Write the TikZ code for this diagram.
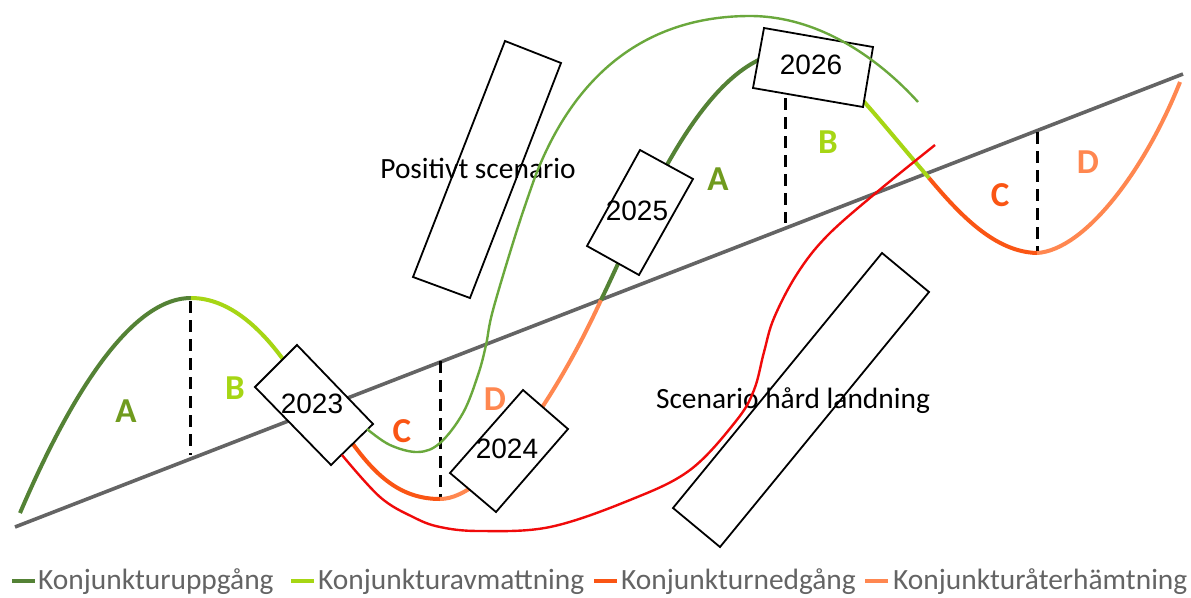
\documentclass[tikz,border=0pt]{standalone}
\usepackage{fontspec}
\setmainfont{Carlito}
\newfontfamily\yearfont{Liberation Sans}
\definecolor{trendgray}{RGB}{100,100,100}
\definecolor{upgreen}{RGB}{84,130,53}
\definecolor{labgreen}{RGB}{112,155,30}
\definecolor{slowgreen}{RGB}{166,214,20}
\definecolor{downorange}{RGB}{250,85,20}
\definecolor{recorange}{RGB}{255,135,80}
\definecolor{posgreen}{RGB}{106,168,60}
\definecolor{hardred}{RGB}{240,10,10}
\definecolor{legendgray}{RGB}{100,100,100}
\begin{document}
\begin{tikzpicture}[x=1pt,y=-1pt,
  trend/.style={draw=trendgray,line width=3.6pt},
  divider/.style={draw=black,line width=3pt,dash pattern=on 12pt off 7pt},
  phaseA/.style={draw=upgreen,line width=4pt},
  phaseB/.style={draw=slowgreen,line width=4pt},
  phaseC/.style={draw=downorange,line width=4pt},
  phaseD/.style={draw=recorange,line width=4pt},
  yearbox/.style={draw=black,line width=1.8pt,fill=white,line join=miter},
  scenbox/.style={draw=black,line width=1.8pt},
  yeartext/.style={font=\yearfont\fontsize{28}{30}\selectfont,anchor=base,inner sep=0pt},
  scentext/.style={font=\fontsize{29.4}{32}\selectfont,anchor=base,inner sep=0pt},
  phaselabel/.style={font=\bfseries\fontsize{35}{40}\selectfont,anchor=base,inner sep=0pt},
  legtext/.style={font=\fontsize{29.4}{32}\selectfont,text=legendgray,anchor=base west,inner sep=0pt},
  posline/.style={draw=posgreen,line width=2.4pt},
  hardline/.style={draw=hardred,line width=2.4pt}
]
\fill[white] (0,0) rectangle (1191,597);
\useasboundingbox (0,0) rectangle (1191,597);

% trend line
\coordinate (t0) at (15,527);
\coordinate (t1) at (1183,74);
\draw[trend] (t0) -- (t1);

% key points of the cycle
\coordinate (s0) at (20,513);
\coordinate (p1) at (191,298);
\coordinate (b1) at (285,362);
\coordinate (c1) at (350,440);
\coordinate (q1) at (440,499);
\coordinate (x1) at (601,300);
\coordinate (p2) at (785,52);
\coordinate (x2) at (929,178);
\coordinate (q2) at (1037,253);
\coordinate (e2) at (1180,82);

% dashed dividers
\draw[divider] (190,301) -- (190,455);
\draw[divider] (440,361) -- (440,497);
\draw[divider] (785,98) -- (785,223);
\draw[divider] (1037,132) -- (1037,252);

% main cycle
\draw[phaseA] (s0) .. controls (62,415) and (125,298) .. (p1);
\draw[phaseB] (p1) .. controls (230,298) and (262,330) .. (b1);
\draw[phaseC] (c1) .. controls (375,475) and (400,499) .. (q1);
\draw[phaseD] (q1) .. controls (490,499) and (560,390) .. (x1);
\draw[phaseA] (x1) .. controls (640,220) and (700,62) .. (p2);
\draw[phaseB] (p2) .. controls (830,52) and (855,92) .. (x2);
\draw[phaseC] (x2) .. controls (960,215) and (995,252) .. (q2);
\draw[phaseD] (q2) .. controls (1085,250) and (1145,170) .. (e2);

% phase labels
\node[phaselabel,text=labgreen] (la1) at (126,422) {A};
\node[phaselabel,text=slowgreen] (lb1) at (235,399) {B};
\node[phaselabel,text=downorange] (lc1) at (402,442) {C};
\node[phaselabel,text=recorange] (ld1) at (495,410) {D};
\node[phaselabel,text=labgreen] (la2) at (718,190) {A};
\node[phaselabel,text=slowgreen] (lb2) at (828,153) {B};
\node[phaselabel,text=downorange] (lc2) at (1000,206) {C};
\node[phaselabel,text=recorange] (ld2) at (1088,173) {D};

% year boxes
\draw[yearbox] (255,387) -- (297,345) -- (373,424) -- (331,465) -- cycle;
\node[yeartext] (y2023) at (312,413) {2023};
\draw[yearbox] (450,473) -- (523,390) -- (568,429) -- (496,512) -- cycle;
\node[yeartext] (y2024) at (507,458) {2024};
\draw[yearbox] (640,150) -- (693,179) -- (639,275) -- (587,246) -- cycle;
\node[yeartext] (y2025) at (637,220) {2025};
\draw[yearbox] (764,28) -- (873,47) -- (863,107) -- (753,88) -- cycle;
\node[yeartext] (y2026) at (811,74) {2026};

% scenario boxes and texts
\draw[scenbox] (505,41) -- (561,63) -- (470,298) -- (413,277) -- cycle;
\node[scentext] (pos) at (478,178) {Positivt scenario};
\draw[scenbox] (882,253) -- (929,292) -- (720,547) -- (673,508) -- cycle;
\node[scentext] (hard) at (793,408) {Scenario hård landning};

% positive scenario curve
\coordinate (ptop) at (750,16);
\coordinate (pend) at (918,102);
\draw[posline] plot[smooth,tension=0.6] coordinates {
 (367,429) (390,445) (418,452) (440,443) (463,413) (478,375) (486,345)
 (493,310) (517,230) (535,177)}
 .. controls (580,60) and (660,16) .. (ptop)
 .. controls (820,16) and (880,60) .. (pend);

% hard landing curve
\draw[hardline] plot[smooth,tension=0.6] coordinates {
 (342,455) (380,497) (413,517) (440,527) (480,531) (550,527) (630,500)
 (690,470) (736,421) (754,390) (764,352) (774,318) (797,274) (827,236)
 (877,192) (935,145)};

% legend
\draw[phaseA] (12,581) -- (35,581);
\node[legtext] (leg1) at (38,589) {Konjunkturuppgång};
\draw[phaseB] (291,581) -- (314,581);
\node[legtext] (leg2) at (318,589) {Konjunkturavmattning};
\draw[phaseC] (594,581) -- (617,581);
\node[legtext] (leg3) at (621,589) {Konjunkturnedgång};
\draw[phaseD] (865,581) -- (888,581);
\node[legtext] (leg4) at (893,589) {Konjunkturåterhämtning};
\end{tikzpicture}
\end{document}
